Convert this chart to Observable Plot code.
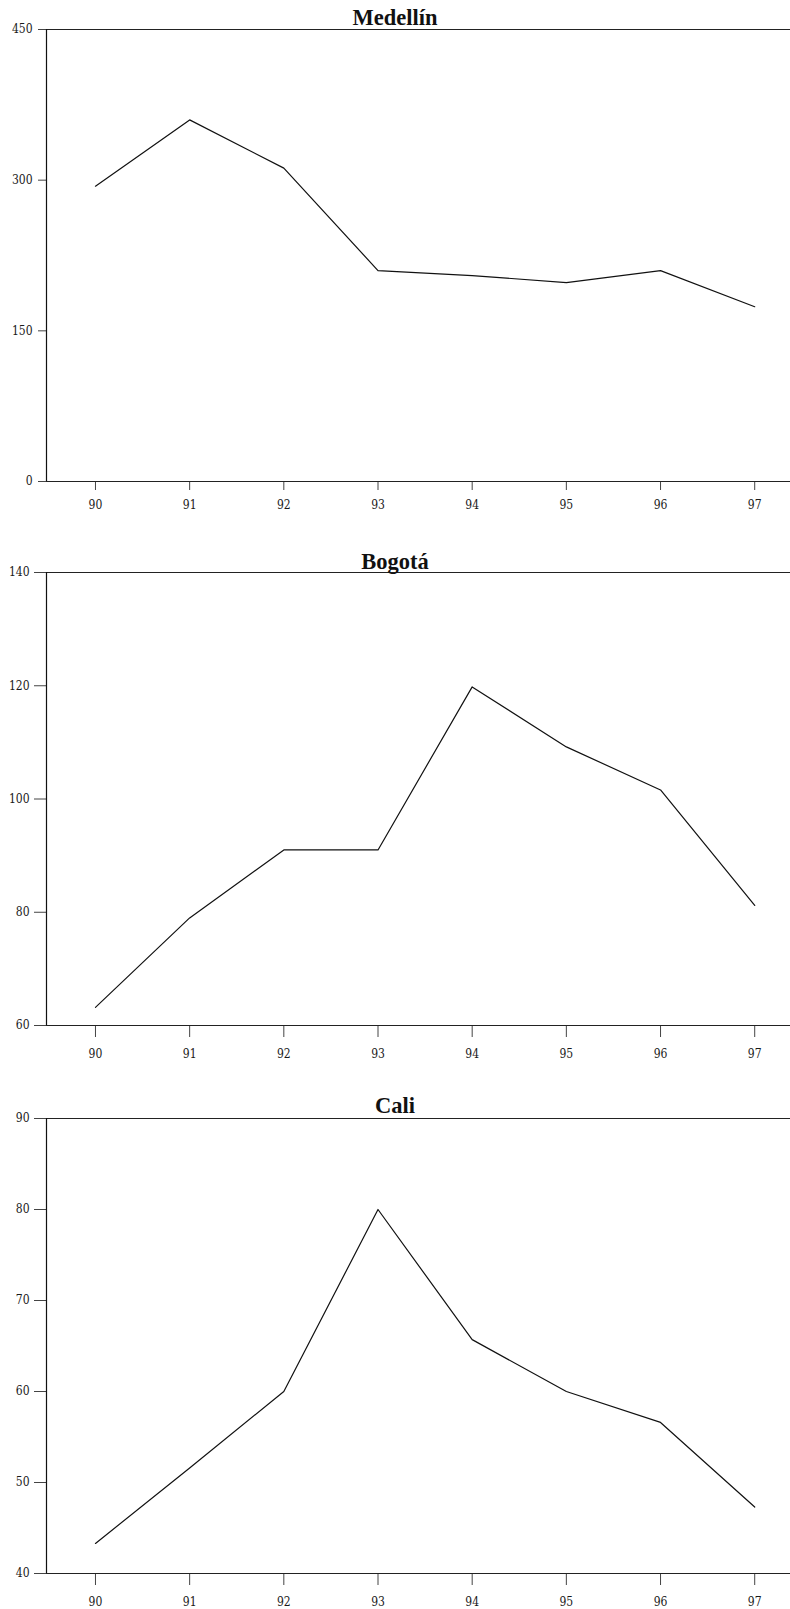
<!DOCTYPE html>
<html>
<head>
<meta charset="utf-8">
<script src="https://cdn.jsdelivr.net/npm/d3@7"></script>
<script src="https://cdn.jsdelivr.net/npm/@observablehq/plot@0.6"></script>
<style>
  html, body { margin: 0; padding: 0; background: #fff; }
  #root { width: 790px; }
  .panel { position: relative; width: 790px; }
  .panel svg { display: block; }
  .panel svg text { font-stretch: condensed; }
  .title {
    position: absolute; left: 0; width: 790px; text-align: center;
    font-family: "Liberation Serif", serif; font-weight: bold; font-size: 22.5px;
    line-height: 22px; color: #111; pointer-events: none;
  }
</style>
</head>
<body>
<div id="root"></div>
<script>
// ---- data ----
const years = [90, 91, 92, 93, 94, 95, 96, 97];
const cities = ["Medellín", "Bogotá", "Cali"];
const medellin = [294, 360, 312, 210, 205, 198, 210, 174];
const bogota = [63.2, 79, 91, 91, 119.8, 109.2, 101.6, 81.2];
const cali = [43.3, 51.6, 60, 80, 65.7, 60, 56.6, 47.3];
const medellinTicks = [0, 150, 300, 450];
const bogotaTicks = [60, 80, 100, 120, 140];
const caliTicks = [40, 50, 60, 70, 80, 90];

const series = [medellin, bogota, cali];
const yTicks = [medellinTicks, bogotaTicks, caliTicks];

// layout per panel
const layouts = [
  {height: 543, marginTop: 29, marginBottom: 62, xTickSize: 9, xTickPad: 10, yTickSize: 8, yTickPad: 6, titleTop: 7.4},
  {height: 544, marginTop: 29, marginBottom: 62, xTickSize: 12, xTickPad: 12, yTickSize: 12, yTickPad: 5, titleTop: 7.7},
  {height: 522, marginTop: 31, marginBottom: 36, xTickSize: 12, xTickPad: 12, yTickSize: 12, yTickPad: 5, titleTop: 7.7}
];

const xDomain = [89.48, 97.38];
const root = document.getElementById("root");

cities.forEach((city, i) => {
  const vals = series[i];
  const ticks = yTicks[i];
  const L = layouts[i];
  const data = years.map((y, j) => ({year: y, value: vals[j]}));
  const yDomain = [ticks[0], ticks[ticks.length - 1]];

  const chart = Plot.plot({
    width: 790,
    height: L.height,
    marginTop: L.marginTop,
    marginBottom: L.marginBottom,
    marginLeft: 46,
    marginRight: 0,
    style: {fontFamily: "'DejaVu Serif', serif", fontSize: "12px", color: "#1a1a1a", background: "#fff"},
    x: {type: "linear", domain: xDomain, ticks: years, tickFormat: d => String(d), label: null},
    y: {domain: yDomain, ticks: ticks, tickFormat: d => String(d), label: null},
    marks: [
      Plot.axisX({ticks: years, tickFormat: d => String(d), tickSize: L.xTickSize, tickPadding: L.xTickPad, label: null, stroke: "#444"}),
      Plot.axisY({ticks: ticks, tickFormat: d => String(d), tickSize: L.yTickSize, tickPadding: L.yTickPad, label: null, stroke: "#444"}),
      Plot.ruleY(yDomain, {stroke: "#222", strokeWidth: 1.2}),
      Plot.ruleX([xDomain[0]], {stroke: "#111", strokeWidth: 1.2}),
      Plot.line(data, {x: "year", y: "value", stroke: "#111", strokeWidth: 1.2})
    ]
  });

  const panel = document.createElement("div");
  panel.className = "panel";
  panel.appendChild(chart);
  const t = document.createElement("div");
  t.className = "title";
  t.style.top = L.titleTop + "px";
  t.textContent = city;
  panel.appendChild(t);
  root.appendChild(panel);
});
</script>
</body>
</html>
